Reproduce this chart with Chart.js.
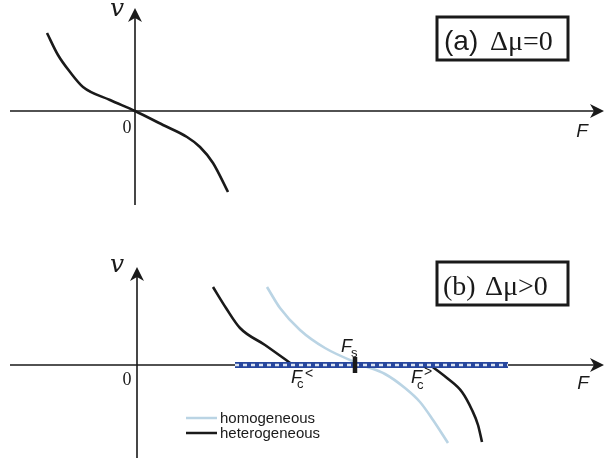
<!DOCTYPE html>
<html>
<head>
<meta charset="utf-8">
<script src="https://cdn.jsdelivr.net/npm/chart.js@4/dist/chart.umd.min.js"></script>
<style>
  html, body { margin: 0; padding: 0; background: #fff; }
  canvas { display: block; }
</style>
</head>
<body>
<canvas id="panelA" width="605" height="229"></canvas>
<canvas id="panelB" width="605" height="229"></canvas>
<script>
// Panel (a): dmu = 0, single curve through the origin
const aF = [-1.76, -1.54, -1.30, -1.04, -0.50, 0, 0.56, 1.04, 1.30, 1.56, 1.86];
const aV = [1.56, 1.12, 0.78, 0.48, 0.22, 0, -0.28, -0.52, -0.72, -1.04, -1.62];

// Panel (b): dmu > 0
const hetLeftF = [1.52, 1.78, 2.06, 2.56, 3.12];
const hetLeftV = [1.56, 1.14, 0.74, 0.40, 0];
const hetRightF = [5.86, 6.20, 6.50, 6.70, 6.82, 6.90];
const hetRightV = [0, -0.26, -0.54, -0.90, -1.20, -1.54];
const homF = [2.60, 2.86, 3.26, 3.76, 4.50, 4.96, 5.36, 5.66, 5.92, 6.22];
const homV = [1.56, 1.14, 0.70, 0.34, 0, -0.18, -0.46, -0.74, -1.10, -1.56];
const bandF = [1.96, 7.42];   // F_c^< .. F_c^> region
const Fs = 4.36;

const legendLabels = ["homogeneous", "heterogeneous"];

const BLACK = "#1a1a1a";
const LIGHTBLUE = "#bad4e4";

function pts(xs, ys) {
  return xs.map((x, i) => ({ x: x, y: ys[i] }));
}

function arrowHead(ctx, x, y, dir) {
  // dir: "right" or "up" ; stealth-like arrow
  ctx.save();
  ctx.translate(x, y);
  if (dir === "up") ctx.rotate(-Math.PI / 2);
  ctx.beginPath();
  ctx.moveTo(0, 0);
  ctx.lineTo(-14, -7);
  ctx.lineTo(-10, 0);
  ctx.lineTo(-14, 7);
  ctx.closePath();
  ctx.fillStyle = BLACK;
  ctx.fill();
  ctx.restore();
}

function drawLabel(ctx, parts) {
  parts.forEach(p => {
    ctx.font = p.font;
    ctx.fillStyle = p.color || BLACK;
    ctx.textAlign = p.align || "left";
    ctx.textBaseline = p.baseline || "alphabetic";
    ctx.fillText(p.text, p.x, p.y);
  });
}

// draws the axes with arrows, below the datasets
const axesPlugin = {
  id: "axes",
  beforeDatasetsDraw(chart, args, opts) {
    const ctx = chart.ctx;
    const xs = chart.scales.x, ys = chart.scales.y;
    const x0 = xs.getPixelForValue(0), y0 = ys.getPixelForValue(0);
    ctx.save();
    ctx.strokeStyle = BLACK;
    ctx.lineWidth = 1.6;
    ctx.beginPath();
    ctx.moveTo(xs.getPixelForValue(opts.xLeft), y0);
    ctx.lineTo(xs.getPixelForValue(xs.max) - 6, y0);
    ctx.moveTo(x0, ys.getPixelForValue(opts.yBottom));
    ctx.lineTo(x0, ys.getPixelForValue(opts.yTop) + 6);
    ctx.stroke();
    arrowHead(ctx, xs.getPixelForValue(xs.max) - 1, y0, "right");
    arrowHead(ctx, x0, ys.getPixelForValue(opts.yTop), "up");
    ctx.restore();
  },
  afterDraw(chart, args, opts) {
    const ctx = chart.ctx;
    ctx.save();
    // boxed title
    const b = opts.box;
    ctx.strokeStyle = BLACK;
    ctx.lineWidth = 3;
    ctx.strokeRect(b.x, b.y, b.w, b.h);
    drawLabel(ctx, opts.labels);
    (opts.legend || []).forEach(l => {
      ctx.strokeStyle = l.color;
      ctx.lineWidth = 2.5;
      ctx.beginPath();
      ctx.moveTo(l.x, l.y);
      ctx.lineTo(l.x + 31, l.y);
      ctx.stroke();
      drawLabel(ctx, [{ text: l.text, x: l.x + 34, y: l.y + 1, font: "15px 'Liberation Sans', Arial", baseline: "middle" }]);
    });
    ctx.restore();
  }
};

function baseOptions(xMin, xMax, yMin, yMax, extra) {
  return {
    responsive: false,
    animation: false,
    devicePixelRatio: 1,
    layout: { padding: 0 },
    elements: { point: { radius: 0 } },
    plugins: {
      legend: { display: false },
      tooltip: { enabled: false },
      axes: extra
    },
    scales: {
      x: { type: "linear", min: xMin, max: xMax, display: false },
      y: { type: "linear", min: yMin, max: yMax, display: false }
    }
  };
}

const curveStyle = { borderWidth: 2.6, cubicInterpolationMode: "monotone", fill: false, pointRadius: 0 };

// Panel (a)
new Chart(document.getElementById("panelA"), {
  type: "line",
  data: {
    datasets: [
      Object.assign({ data: pts(aF, aV), borderColor: BLACK }, curveStyle)
    ]
  },
  options: baseOptions(-2.7, 9.4, -2.36, 2.22, {
    xLeft: -2.5, yTop: 2.06, yBottom: -1.88,
    box: { x: 437, y: 17, w: 131, h: 43 },
    labels: [
      { text: "v", x: 117, y: 16, font: "italic 25px 'DejaVu Serif', serif", align: "center" },
      { text: "0", x: 127, y: 133, font: "18px 'Liberation Serif', serif", align: "center" },
      { text: "F", x: 582, y: 137, font: "italic 19px 'Liberation Sans', Arial", align: "center" },
      { text: "(a)", x: 444, y: 50, font: "28px 'Liberation Sans', Arial" },
      { text: "\u0394\u03bc=0", x: 490, y: 50, font: "28px 'Liberation Serif', serif" }
    ]
  }),
  plugins: [axesPlugin]
});

// Panel (b)
new Chart(document.getElementById("panelB"), {
  type: "line",
  data: {
    datasets: [
      { data: [{ x: Fs, y: -0.16 }, { x: Fs, y: 0.16 }], borderColor: BLACK, borderWidth: 4.5, pointRadius: 0, borderCapStyle: "butt" },
      { data: pts(bandF, [0, 0]), borderColor: "#dbe4f2", borderWidth: 2.5, borderDash: [4, 4], pointRadius: 0, borderCapStyle: "butt" },
      { data: pts(bandF, [0, 0]), borderColor: "#27479e", borderWidth: 6, pointRadius: 0, borderCapStyle: "butt" },
      Object.assign({ label: legendLabels[1], data: pts(hetLeftF, hetLeftV), borderColor: BLACK }, curveStyle),
      Object.assign({ label: legendLabels[1], data: pts(hetRightF, hetRightV), borderColor: BLACK }, curveStyle),
      Object.assign({ label: legendLabels[0], data: pts(homF, homV), borderColor: LIGHTBLUE }, curveStyle)
    ]
  },
  options: baseOptions(-2.74, 9.36, -1.86, 2.72, {
    xLeft: -2.54, yTop: 1.96, yBottom: -1.86,
    box: { x: 437, y: 33, w: 131, h: 43 },
    labels: [
      { text: "v", x: 117, y: 43, font: "italic 25px 'DejaVu Serif', serif", align: "center" },
      { text: "0", x: 127, y: 156, font: "18px 'Liberation Serif', serif", align: "center" },
      { text: "F", x: 583, y: 160, font: "italic 19px 'Liberation Sans', Arial", align: "center" },
      { text: "(b)", x: 443, y: 66, font: "28px 'Liberation Serif', serif" },
      { text: "\u0394\u03bc>0", x: 485, y: 66, font: "28px 'Liberation Serif', serif" },
      { text: "F", x: 341, y: 123, font: "italic 18px 'Liberation Sans', Arial" },
      { text: "s", x: 351, y: 128, font: "13px 'Liberation Sans', Arial" },
      { text: "F", x: 291, y: 154, font: "italic 18px 'Liberation Sans', Arial" },
      { text: "c", x: 297, y: 159, font: "13px 'Liberation Sans', Arial" },
      { text: "<", x: 305, y: 149, font: "14px 'Liberation Sans', Arial" },
      { text: "F", x: 411, y: 154, font: "italic 18px 'Liberation Sans', Arial" },
      { text: "c", x: 417, y: 160, font: "13px 'Liberation Sans', Arial" },
      { text: ">", x: 424, y: 147, font: "14px 'Liberation Sans', Arial" }
    ],
    legend: [
      { text: legendLabels[0], x: 186, y: 189, color: LIGHTBLUE },
      { text: legendLabels[1], x: 186, y: 204, color: BLACK }
    ]
  }),
  plugins: [axesPlugin]
});
</script>
</body>
</html>
